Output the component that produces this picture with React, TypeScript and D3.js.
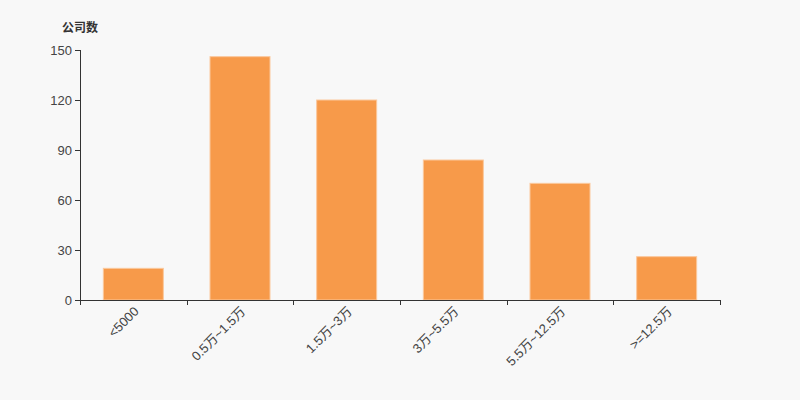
import React from "react";
import * as d3 from "d3";

const categories = ["<5000", "0.5万~1.5万", "1.5万~3万", "3万~5.5万", "5.5万~12.5万", ">=12.5万"];
const values = [19, 146, 120, 84, 70, 26];
const yTicks = [0, 30, 60, 90, 120, 150];
const yTitle = "公司数";

export default function App() {
  const width = 800;
  const height = 400;
  const left = 80;
  const right = 720;
  const top = 50;
  const bottom = 300;

  const x = d3.scaleBand<string>().domain(categories).range([left, right]).paddingInner(0).paddingOuter(0);
  const y = d3.scaleLinear().domain([0, 150]).range([bottom, top]);
  const bw = x.bandwidth();
  const barW = bw * 0.5625;
  const font = '"Liberation Sans", Arial, "Noto Sans CJK SC", sans-serif';
  const axisColor = "#333";

  const edges = categories.map((c) => x(c) as number).concat([right]);

  return (
    <svg
      width={width}
      height={height}
      style={{ position: "absolute", left: 0, top: 0, background: "#f8f8f8" }}
      fontFamily={font}
    >
      <rect x={0} y={0} width={width} height={height} fill="#f8f8f8" />
      <text x={62} y={32} fontSize={12} fontWeight="bold" fill="#333">
        {yTitle}
      </text>
      {categories.map((c, i) => {
        const cx = (x(c) as number) + bw / 2;
        return (
          <rect
            key={c}
            x={cx - barW / 2}
            y={y(values[i])}
            width={barW}
            height={bottom - y(values[i])}
            fill="#f79a4a"
            stroke="#fbc89c"
            strokeWidth={1}
          />
        );
      })}
      {/* y axis */}
      <line x1={left + 0.5} x2={left + 0.5} y1={top} y2={bottom} stroke={axisColor} />
      {yTicks.map((t) => (
        <g key={t}>
          <line x1={left - 5} x2={left} y1={Math.round(y(t)) + 0.5} y2={Math.round(y(t)) + 0.5} stroke={axisColor} />
          <text x={left - 8} y={y(t)} dy="0.35em" textAnchor="end" fontSize={13} fill="#444">
            {t}
          </text>
        </g>
      ))}
      {/* x axis */}
      <line x1={left} x2={right + 0.5} y1={bottom + 0.5} y2={bottom + 0.5} stroke={axisColor} />
      {edges.map((e, i) => (
        <line key={i} x1={Math.round(e) + 0.5} x2={Math.round(e) + 0.5} y1={bottom} y2={bottom + 5} stroke={axisColor} />
      ))}
      {categories.map((c) => {
        const cx = (x(c) as number) + bw / 2;
        return (
          <text
            key={c}
            transform={`translate(${cx + 3},${bottom + 9}) rotate(-45)`}
            textAnchor="end"
            dy="0.35em"
            fontSize={13}
            fill="#444"
          >
            {c}
          </text>
        );
      })}
    </svg>
  );
}
